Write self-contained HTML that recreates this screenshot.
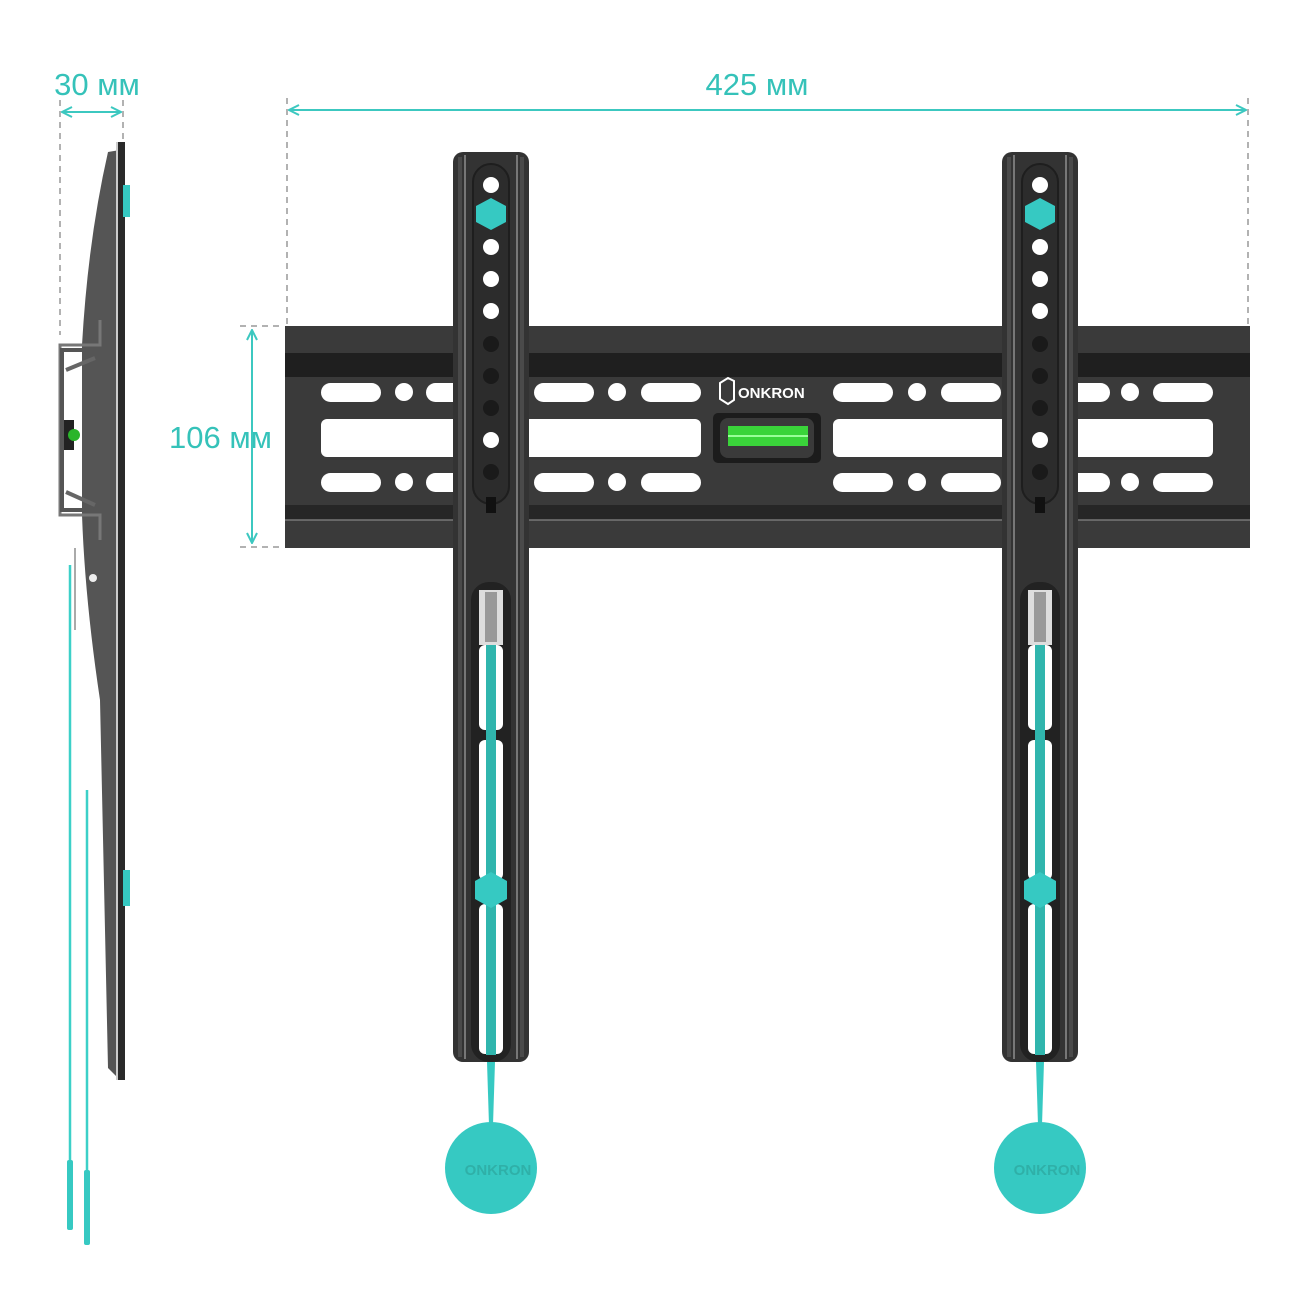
<!DOCTYPE html>
<html><head><meta charset="utf-8"><style>html,body{margin:0;padding:0;background:#fff}svg{display:block}</style></head>
<body>
<svg width="1300" height="1300" viewBox="0 0 1300 1300" xmlns="http://www.w3.org/2000/svg" font-family="Liberation Sans, sans-serif">
<defs>
<marker id="ah" markerWidth="12" markerHeight="12" refX="11" refY="6" orient="auto-start-reverse" markerUnits="userSpaceOnUse"><path d="M1,1 L11,6 L1,11" fill="none" stroke="#3cc8c0" stroke-width="2"/></marker>
<g id="arm">
  <rect x="-38" y="0" width="76" height="910" rx="10" fill="#333"/>
  <rect x="-33" y="5" width="4" height="900" fill="#4a4a4a"/>
  <rect x="29" y="5" width="4" height="900" fill="#4a4a4a"/>
  <rect x="-27" y="3" width="2" height="904" fill="#777"/>
  <rect x="25" y="3" width="2" height="904" fill="#777"/>
  <rect x="-18" y="12" width="36" height="340" rx="18" fill="#2c2c2c" stroke="#1e1e1e" stroke-width="2"/>
  <circle cx="0" cy="33" r="8" fill="#fff"/>
  <circle cx="0" cy="95" r="8" fill="#fff"/>
  <circle cx="0" cy="127" r="8" fill="#fff"/>
  <circle cx="0" cy="159" r="8" fill="#fff"/>
  <circle cx="0" cy="192" r="8" fill="#1a1a1a"/>
  <circle cx="0" cy="224" r="8" fill="#1a1a1a"/>
  <circle cx="0" cy="256" r="8" fill="#1a1a1a"/>
  <circle cx="0" cy="288" r="8" fill="#fff"/>
  <circle cx="0" cy="320" r="8" fill="#1a1a1a"/>
  <rect x="-5" y="345" width="10" height="16" fill="#111"/>
  <polygon points="0,46 15,54 15,70 0,78 -15,70 -15,54" fill="#36c9c2"/>
  <rect x="-20" y="430" width="40" height="480" rx="18" fill="#222"/>
  <rect x="-12" y="438" width="24" height="55" fill="#ddd"/>
  <rect x="-6" y="440" width="12" height="50" fill="#999"/>
  <rect x="-12" y="493" width="24" height="85" rx="6" fill="#fff"/>
  <rect x="-12" y="588" width="24" height="140" rx="6" fill="#fff"/>
  <rect x="-12" y="752" width="24" height="150" rx="6" fill="#fff"/>
  <rect x="-5" y="493" width="10" height="410" fill="#30b5ad"/>
  <polygon points="0,720 16,729 16,747 0,756 -16,747 -16,729" fill="#36c9c2"/>
</g>
</defs>

<!-- dimension 30 -->
<text x="97" y="95" font-size="31" fill="#35c2b9" text-anchor="middle">30 мм</text>
<line x1="60" y1="100" x2="60" y2="335" stroke="#999" stroke-width="1.5" stroke-dasharray="6,5"/>
<line x1="123" y1="100" x2="123" y2="140" stroke="#999" stroke-width="1.5" stroke-dasharray="6,5"/>
<line x1="62" y1="112" x2="121" y2="112" stroke="#3cc8c0" stroke-width="2" marker-start="url(#ah)" marker-end="url(#ah)"/>

<!-- side view -->
<path d="M108,152 L120,150 L120,1080 L108,1068 L100,700 Q85,600 82,515 L82,345 Q88,240 108,152 Z" fill="#555"/>
<rect x="118" y="142" width="7" height="938" fill="#2a2a2a"/>
<rect x="116" y="142" width="2" height="938" fill="#ccc"/>
<path d="M100,320 L100,345 L60,345 L60,515 L100,515 L100,540" fill="none" stroke="#777" stroke-width="3"/>
<path d="M62,350 L98,350 L98,510 L62,510 Z" fill="none" stroke="#555" stroke-width="4"/>
<path d="M66,370 L95,358 M66,492 L95,505" stroke="#666" stroke-width="4"/>
<rect x="64" y="420" width="10" height="30" fill="#222"/>
<circle cx="74" cy="435" r="6" fill="#2ab52a"/>
<circle cx="93" cy="578" r="4" fill="#eee"/>
<rect x="123" y="185" width="7" height="32" fill="#36c9c2"/>
<rect x="123" y="870" width="7" height="36" fill="#36c9c2"/>
<line x1="75" y1="548" x2="75" y2="630" stroke="#aaa" stroke-width="2"/>
<line x1="70" y1="565" x2="70" y2="1160" stroke="#3cd0c8" stroke-width="2.5"/>
<rect x="67" y="1160" width="6" height="70" rx="2" fill="#36c9c2"/>
<line x1="87" y1="790" x2="87" y2="1170" stroke="#3cd0c8" stroke-width="2.5"/>
<rect x="84" y="1170" width="6" height="75" rx="2" fill="#36c9c2"/>

<!-- 425 -->
<text x="757" y="95" font-size="31" fill="#35c2b9" text-anchor="middle">425 мм</text>
<line x1="287" y1="98" x2="287" y2="330" stroke="#999" stroke-width="1.5" stroke-dasharray="6,5"/>
<line x1="1248" y1="98" x2="1248" y2="330" stroke="#999" stroke-width="1.5" stroke-dasharray="6,5"/>
<line x1="289" y1="110" x2="1246" y2="110" stroke="#3cc8c0" stroke-width="2" marker-start="url(#ah)" marker-end="url(#ah)"/>

<!-- 106 -->
<text x="272" y="448" font-size="31" fill="#35c2b9" text-anchor="end">106 мм</text>
<line x1="240" y1="326" x2="283" y2="326" stroke="#999" stroke-width="1.5" stroke-dasharray="6,5"/>
<line x1="240" y1="547" x2="283" y2="547" stroke="#999" stroke-width="1.5" stroke-dasharray="6,5"/>
<line x1="252" y1="330" x2="252" y2="543" stroke="#3cc8c0" stroke-width="2" marker-start="url(#ah)" marker-end="url(#ah)"/>

<!-- plate -->
<rect x="285" y="326" width="965" height="222" fill="#3a3a3a"/>
<rect x="285" y="353" width="965" height="24" fill="#1f1f1f"/>
<rect x="285" y="505" width="965" height="15" fill="#262626"/>
<line x1="285" y1="520" x2="1250" y2="520" stroke="#777" stroke-width="1.5"/>
<g fill="#fff">
<rect x="321" y="383" width="60" height="19" rx="9.5"/><circle cx="404" cy="392" r="9"/><rect x="426" y="383" width="60" height="19" rx="9.5"/>
<rect x="534" y="383" width="60" height="19" rx="9.5"/><circle cx="617" cy="392" r="9"/><rect x="641" y="383" width="60" height="19" rx="9.5"/>
<rect x="833" y="383" width="60" height="19" rx="9.5"/><circle cx="917" cy="392" r="9"/><rect x="941" y="383" width="60" height="19" rx="9.5"/>
<rect x="1050" y="383" width="60" height="19" rx="9.5"/><circle cx="1130" cy="392" r="9"/><rect x="1153" y="383" width="60" height="19" rx="9.5"/>
<rect x="321" y="473" width="60" height="19" rx="9.5"/><circle cx="404" cy="482" r="9"/><rect x="426" y="473" width="60" height="19" rx="9.5"/>
<rect x="534" y="473" width="60" height="19" rx="9.5"/><circle cx="617" cy="482" r="9"/><rect x="641" y="473" width="60" height="19" rx="9.5"/>
<rect x="833" y="473" width="60" height="19" rx="9.5"/><circle cx="917" cy="482" r="9"/><rect x="941" y="473" width="60" height="19" rx="9.5"/>
<rect x="1050" y="473" width="60" height="19" rx="9.5"/><circle cx="1130" cy="482" r="9"/><rect x="1153" y="473" width="60" height="19" rx="9.5"/>
<rect x="321" y="419" width="380" height="38" rx="6"/>
<rect x="833" y="419" width="380" height="38" rx="6"/>
</g>
<rect x="713" y="413" width="108" height="50" rx="5" fill="#1c1c1c"/>
<rect x="720" y="418" width="94" height="40" rx="8" fill="#3a3a3a"/>
<rect x="728" y="426" width="80" height="20" fill="#3ad43a"/>
<line x1="728" y1="436" x2="808" y2="436" stroke="#9f9" stroke-width="2"/>
<path d="M720,383 L728,378 L734,381 L734,400 L728,404 L720,399 Z" fill="none" stroke="#fff" stroke-width="2"/>
<text x="738" y="398" font-size="15" font-weight="bold" fill="#fff">ONKRON</text>

<!-- arms -->
<use href="#arm" x="491" y="152"/>
<use href="#arm" x="1040" y="152"/>
<g fill="#36c9c2">
<path d="M487,1062 L495,1062 L493,1125 L489,1125 Z"/>
<circle cx="491" cy="1168" r="46"/>
<path d="M1036,1062 L1044,1062 L1042,1125 L1038,1125 Z"/>
<circle cx="1040" cy="1168" r="46"/>
</g>
<text x="498" y="1175" font-size="15" font-weight="bold" fill="#2fb0a8" text-anchor="middle">ONKRON</text>
<text x="1047" y="1175" font-size="15" font-weight="bold" fill="#2fb0a8" text-anchor="middle">ONKRON</text>
</svg>
</body></html>
